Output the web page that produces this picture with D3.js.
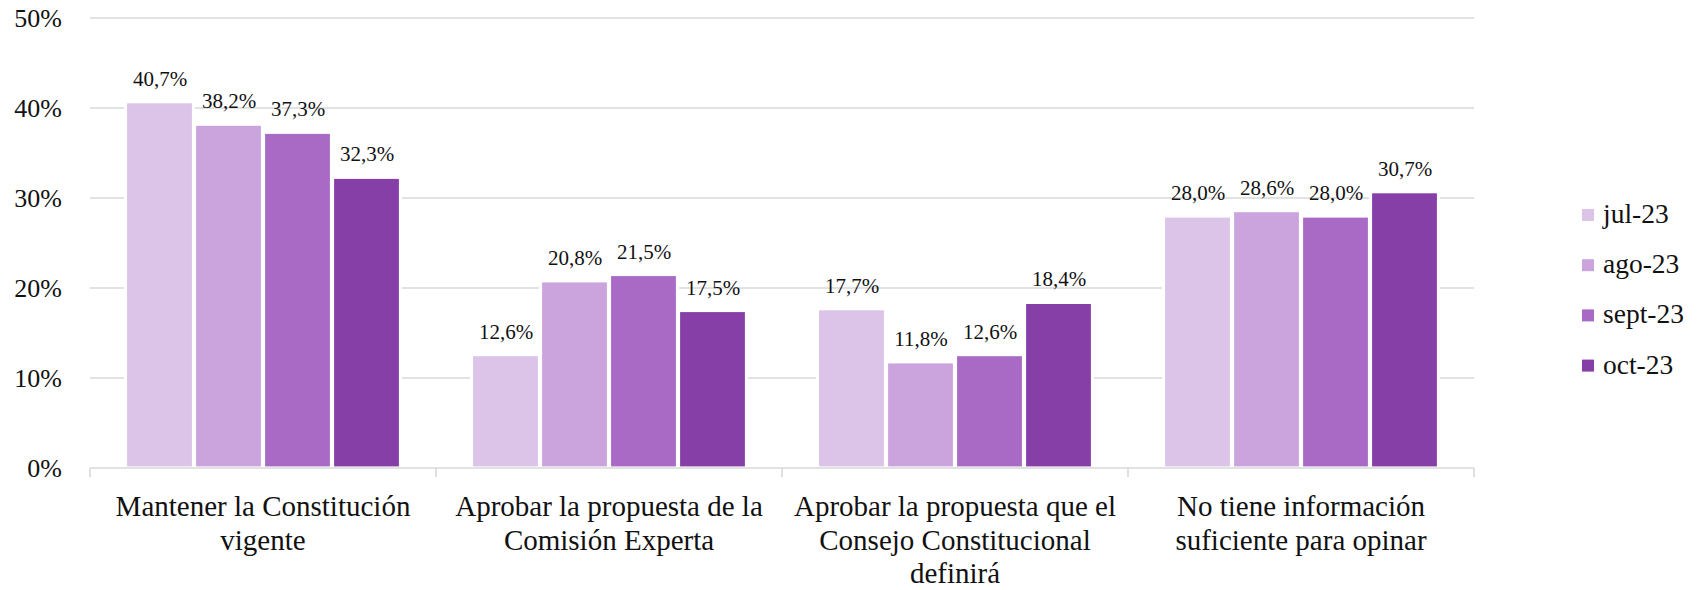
<!DOCTYPE html>
<html>
<head>
<meta charset="utf-8">
<script src="https://cdn.jsdelivr.net/npm/d3@7"></script>
<style>
  html, body { margin: 0; padding: 0; background: #ffffff; }
  svg { display: block; }
  text { font-family: "Liberation Serif", "Times New Roman", serif; fill: #111111; }
</style>
</head>
<body>
<svg id="chart" width="1702" height="590"></svg>
<script>
// ---- data ----
const categories = [
  "Mantener la Constitución vigente",
  "Aprobar la propuesta de la Comisión Experta",
  "Aprobar la propuesta que el Consejo Constitucional definirá",
  "No tiene información suficiente para opinar"
];
const categoryLines = [
  ["Mantener la Constitución", "vigente"],
  ["Aprobar la propuesta de la", "Comisión Experta"],
  ["Aprobar la propuesta que el", "Consejo Constitucional", "definirá"],
  ["No tiene información", "suficiente para opinar"]
];
const seriesNames = ["jul-23", "ago-23", "sept-23", "oct-23"];
const jul23  = [40.7, 12.6, 17.7, 28.0];
const ago23  = [38.2, 20.8, 11.8, 28.6];
const sept23 = [37.3, 21.5, 12.6, 28.0];
const oct23  = [32.3, 17.5, 18.4, 30.7];
const seriesValues = [jul23, ago23, sept23, oct23];
const yTicks = [0, 10, 20, 30, 40, 50];
const colors = ["#DCC3E8", "#CBA4DE", "#A86AC5", "#853FA6"];

(function () {
// ---- layout ----
const svg = d3.select("#chart");
const plotLeft = 90, plotRight = 1474, plotTop = 18, plotBottom = 468;

const x0 = d3.scaleBand().domain(categories).range([plotLeft, plotRight]).padding(0);
const x1 = d3.scaleBand().domain(seriesNames).range([35, 35 + 276]).padding(0);
const y = d3.scaleLinear().domain([0, 50]).range([plotBottom, plotTop]);
const color = d3.scaleOrdinal().domain(seriesNames).range(colors);
const fmt = v => v.toFixed(1).replace(".", ",") + "%";

// gridlines
svg.append("g")
  .selectAll("line")
  .data(yTicks.filter(t => t > 0))
  .join("line")
  .attr("x1", plotLeft).attr("x2", plotRight)
  .attr("y1", d => y(d)).attr("y2", d => y(d))
  .attr("stroke", "#d9d9d9").attr("stroke-width", 1.4);

// y-axis labels
svg.append("g")
  .selectAll("text")
  .data(yTicks)
  .join("text")
  .attr("x", 62).attr("y", d => y(d))
  .attr("dy", "0.34em")
  .attr("text-anchor", "end")
  .attr("font-size", 26)
  .text(d => d + "%");

// bars
const rows = [];
categories.forEach((c, ci) => {
  seriesNames.forEach((s, si) => {
    rows.push({ cat: c, series: s, value: seriesValues[si][ci] });
  });
});

svg.append("g")
  .selectAll("rect")
  .data(rows)
  .join("rect")
  .attr("x", d => x0(d.cat) + x1(d.series) + 0.5)
  .attr("width", x1.bandwidth() - 1)
  .attr("y", d => y(d.value))
  .attr("height", d => y(0) - y(d.value))
  .attr("fill", d => color(d.series))
  .attr("stroke", "#ffffff")
  .attr("stroke-width", 3.2);

// data labels
svg.append("g")
  .selectAll("text")
  .data(rows)
  .join("text")
  .attr("x", d => x0(d.cat) + x1(d.series) + x1.bandwidth() / 2 + 0.5)
  .attr("y", d => y(d.value) - 16)
  .attr("text-anchor", "middle")
  .attr("font-size", 21)
  .text(d => fmt(d.value));

// x axis line and ticks
svg.append("line")
  .attr("x1", plotLeft).attr("x2", plotRight)
  .attr("y1", y(0)).attr("y2", y(0))
  .attr("stroke", "#d9d9d9").attr("stroke-width", 1.6);

const boundaries = categories.map(c => x0(c)).concat([x0(categories[categories.length - 1]) + x0.bandwidth()]);
svg.append("g")
  .selectAll("line")
  .data(boundaries)
  .join("line")
  .attr("x1", d => d).attr("x2", d => d)
  .attr("y1", y(0)).attr("y2", y(0) + 9)
  .attr("stroke", "#d9d9d9").attr("stroke-width", 1.6);

// category labels
const catG = svg.append("g")
  .selectAll("text")
  .data(categories)
  .join("text")
  .attr("text-anchor", "middle")
  .attr("font-size", 29);
catG.each(function(c, i) {
  const t = d3.select(this);
  const cx = x0(c) + x0.bandwidth() / 2;
  categoryLines[i].forEach((line, li) => {
    t.append("tspan")
      .attr("x", cx)
      .attr("y", 516 + li * 33.5)
      .text(line);
  });
});

// legend
const legend = svg.append("g")
  .selectAll("g")
  .data(seriesNames)
  .join("g")
  .attr("transform", (d, i) => `translate(1582, ${223 + i * 50.2})`);
legend.append("rect")
  .attr("x", 0).attr("y", -14)
  .attr("width", 12).attr("height", 12)
  .attr("fill", d => color(d));
legend.append("text")
  .attr("x", 21).attr("y", 0)
  .attr("font-size", 27.5)
  .text(d => d);
})();
</script>
</body>
</html>
